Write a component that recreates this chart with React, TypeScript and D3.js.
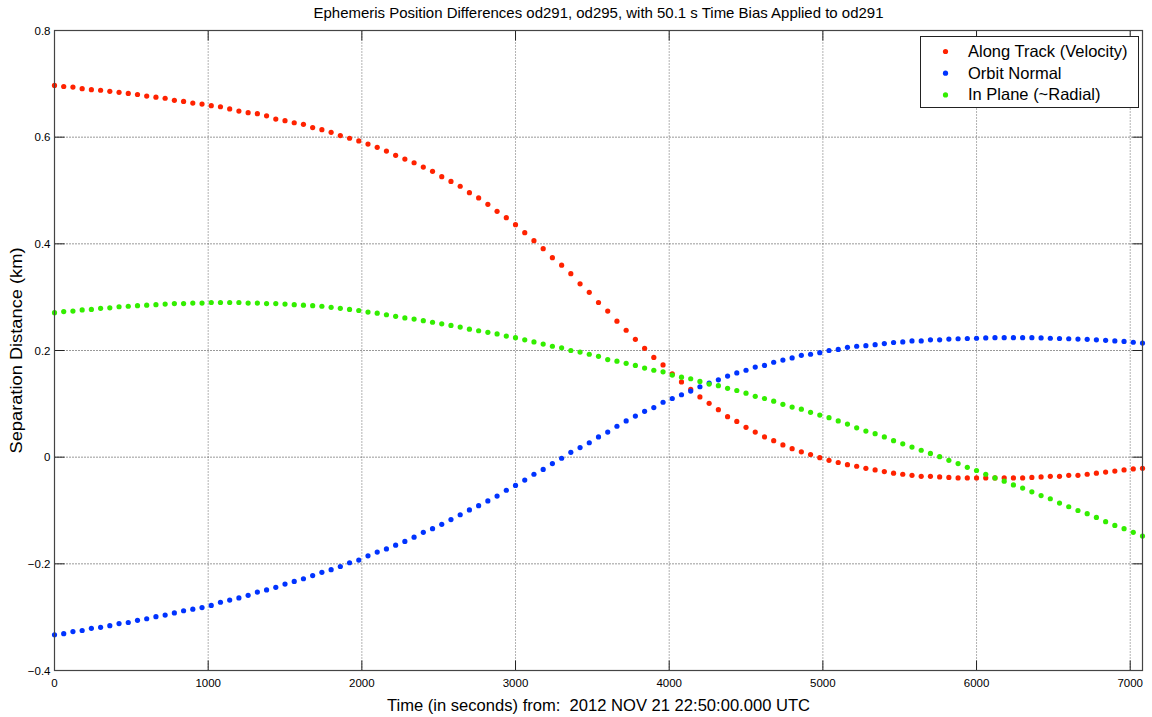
import React from 'react';
import * as d3 from 'd3';

// sample times (s), one every 60 s
const times = d3.range(0, 7081, 60);

const alongTrack = [
  0.697, 0.695, 0.694, 0.691, 0.689, 0.688, 0.686, 0.684, 0.682, 0.680,
  0.677, 0.675, 0.673, 0.669, 0.667, 0.664, 0.662, 0.659, 0.657, 0.653,
  0.649, 0.646, 0.644, 0.640, 0.634, 0.631, 0.627, 0.624, 0.618, 0.614,
  0.609, 0.603, 0.598, 0.593, 0.587, 0.581, 0.574, 0.566, 0.559, 0.552,
  0.544, 0.536, 0.526, 0.517, 0.508, 0.496, 0.486, 0.474, 0.461, 0.449,
  0.436, 0.421, 0.406, 0.391, 0.374, 0.360, 0.344, 0.325, 0.309, 0.290,
  0.274, 0.255, 0.238, 0.221, 0.204, 0.187, 0.173, 0.156, 0.141, 0.127,
  0.113, 0.101, 0.089, 0.076, 0.067, 0.056, 0.047, 0.038, 0.031, 0.023,
  0.016, 0.010, 0.005, -0.001, -0.006, -0.010, -0.014, -0.017, -0.021, -0.024,
  -0.027, -0.030, -0.032, -0.034, -0.036, -0.036, -0.037, -0.038, -0.039, -0.039,
  -0.039, -0.039, -0.039, -0.039, -0.039, -0.039, -0.038, -0.037, -0.036, -0.036,
  -0.034, -0.034, -0.032, -0.030, -0.028, -0.026, -0.024, -0.022, -0.021,
];

const orbitNormal = [
  -0.333, -0.331, -0.327, -0.325, -0.321, -0.319, -0.316, -0.312, -0.310, -0.306,
  -0.303, -0.299, -0.296, -0.292, -0.288, -0.285, -0.282, -0.278, -0.272, -0.268,
  -0.264, -0.259, -0.253, -0.249, -0.244, -0.238, -0.233, -0.228, -0.222, -0.216,
  -0.211, -0.205, -0.198, -0.193, -0.185, -0.178, -0.172, -0.165, -0.158, -0.150,
  -0.141, -0.134, -0.126, -0.117, -0.108, -0.099, -0.091, -0.082, -0.073, -0.062,
  -0.053, -0.043, -0.032, -0.023, -0.012, -0.002, 0.009, 0.018, 0.027, 0.038,
  0.047, 0.058, 0.068, 0.077, 0.086, 0.093, 0.103, 0.110, 0.117, 0.124,
  0.132, 0.139, 0.145, 0.152, 0.158, 0.163, 0.169, 0.172, 0.178, 0.182,
  0.186, 0.191, 0.193, 0.196, 0.200, 0.202, 0.206, 0.208, 0.209, 0.211,
  0.213, 0.215, 0.216, 0.218, 0.218, 0.220, 0.220, 0.2215, 0.222, 0.2225,
  0.223, 0.2235, 0.224, 0.224, 0.224, 0.224, 0.224, 0.2235, 0.223, 0.2225,
  0.222, 0.2215, 0.221, 0.220, 0.219, 0.218, 0.217, 0.2155, 0.214,
];

const inPlane = [
  0.271, 0.273, 0.274, 0.276, 0.277, 0.279, 0.280, 0.282, 0.283, 0.284,
  0.285, 0.286, 0.287, 0.288, 0.288, 0.289, 0.289, 0.290, 0.290, 0.290,
  0.290, 0.289, 0.289, 0.288, 0.288, 0.287, 0.286, 0.285, 0.284, 0.283,
  0.281, 0.279, 0.277, 0.275, 0.272, 0.270, 0.267, 0.264, 0.261, 0.259,
  0.256, 0.253, 0.250, 0.247, 0.244, 0.240, 0.237, 0.234, 0.231, 0.227,
  0.224, 0.220, 0.216, 0.212, 0.208, 0.205, 0.200, 0.197, 0.193, 0.189,
  0.183, 0.180, 0.176, 0.172, 0.167, 0.163, 0.160, 0.154, 0.150, 0.147,
  0.142, 0.137, 0.134, 0.129, 0.125, 0.120, 0.114, 0.110, 0.105, 0.099,
  0.094, 0.090, 0.084, 0.079, 0.074, 0.068, 0.062, 0.055, 0.049, 0.044,
  0.038, 0.031, 0.025, 0.019, 0.013, 0.007, 0.001, -0.006, -0.012, -0.019,
  -0.025, -0.032, -0.039, -0.045, -0.052, -0.058, -0.065, -0.072, -0.078, -0.086,
  -0.093, -0.100, -0.106, -0.113, -0.121, -0.128, -0.134, -0.141, -0.148,
];

const seriesNames = ['Along Track (Velocity)', 'Orbit Normal', 'In Plane (~Radial)'];
const seriesColors = ['#ff2200', '#0033ff', '#33ee00'];
const seriesValues = [alongTrack, orbitNormal, inPlane];

const xTicks = [0, 1000, 2000, 3000, 4000, 5000, 6000, 7000];
const yTicks = [-0.4, -0.2, 0, 0.2, 0.4, 0.6, 0.8];

const titleText = 'Ephemeris Position Differences od291, od295, with 50.1 s Time Bias Applied to od291';
const xLabel = 'Time (in seconds) from:  2012 NOV 21 22:50:00.000 UTC';
const yLabel = 'Separation Distance (km)';

const W = 1152;
const H = 717;
const margin = { top: 30.5, right: 9.5, bottom: 46.5, left: 54.5 };

export default function App() {
  const x = d3.scaleLinear().domain([0, 7080]).range([margin.left, W - margin.right]);
  const y = d3.scaleLinear().domain([-0.4, 0.8]).range([H - margin.bottom, margin.top]);
  const [x0, x1] = x.range();
  const [y1, y0] = y.range();
  const font = 'Liberation Sans, Arial, Helvetica, sans-serif';
  const tickLen = 10;

  return (
    <svg width={W} height={H} style={{ position: 'absolute', left: 0, top: 0, background: '#fff' }} fontFamily={font}>
      <rect x={0} y={0} width={W} height={H} fill="#fff" />
      {/* grid */}
      {xTicks.filter(t => t > 0).map(t => (
        <line key={'gx' + t} x1={x(t)} x2={x(t)} y1={y0} y2={y1} stroke="#666" strokeDasharray="1,2" />
      ))}
      {yTicks.filter(t => t > -0.4 && t < 0.8).map(t => (
        <line key={'gy' + t} x1={x0} x2={x1} y1={y(t)} y2={y(t)} stroke="#333" strokeDasharray="1,2" />
      ))}
      {/* ticks */}
      {xTicks.map(t => (
        <g key={'tx' + t}>
          <line x1={x(t)} x2={x(t)} y1={y1} y2={y1 - tickLen} stroke="#222" />
          <line x1={x(t)} x2={x(t)} y1={y0} y2={y0 + tickLen} stroke="#222" />
          <text x={x(t)} y={y1 + 16} fontSize={11.5} textAnchor="middle" fill="#000">{t}</text>
        </g>
      ))}
      {yTicks.map(t => (
        <g key={'ty' + t}>
          <line x1={x0} x2={x0 + tickLen} y1={y(t)} y2={y(t)} stroke="#222" />
          <line x1={x1} x2={x1 - tickLen} y1={y(t)} y2={y(t)} stroke="#222" />
          <text x={x0 - 4} y={y(t) + 4} fontSize={11.5} textAnchor="end" fill="#000">{d3.format('')(t)}</text>
        </g>
      ))}
      {/* data */}
      {seriesValues.map((vals, si) => (
        <g key={'s' + si} fill={seriesColors[si]}>
          {vals.map((v, i) => (
            <circle key={i} cx={x(times[i])} cy={y(v)} r={2.6} />
          ))}
        </g>
      ))}
      {/* axes box */}
      <rect x={x0} y={y0} width={x1 - x0} height={y1 - y0} fill="none" stroke="#444" strokeWidth={1.2} />
      {/* legend */}
      <g transform="translate(920.5, 36.5)">
        <rect x={0} y={0} width={218} height={71} fill="#fff" stroke="#222" />
        {seriesNames.map((name, i) => (
          <g key={name} transform={`translate(0, ${15 + i * 21.7})`}>
            <circle cx={25} cy={0} r={2.6} fill={seriesColors[i]} />
            <text x={47.5} y={5.5} fontSize={16.5} fill="#000">{name}</text>
          </g>
        ))}
      </g>
      {/* labels */}
      <text x={(x0 + x1) / 2} y={18} fontSize={15} textAnchor="middle" fill="#000" textLength={570} lengthAdjust="spacingAndGlyphs">{titleText}</text>
      <text x={(x0 + x1) / 2} y={711} fontSize={16.5} textAnchor="middle" fill="#000" style={{ whiteSpace: 'pre' }} textLength={423} lengthAdjust="spacingAndGlyphs">{xLabel}</text>
      <text transform={`translate(22, ${(y0 + y1) / 2}) rotate(-90)`} fontSize={16.5} textAnchor="middle" fill="#000" textLength={206} lengthAdjust="spacingAndGlyphs">{yLabel}</text>
    </svg>
  );
}
